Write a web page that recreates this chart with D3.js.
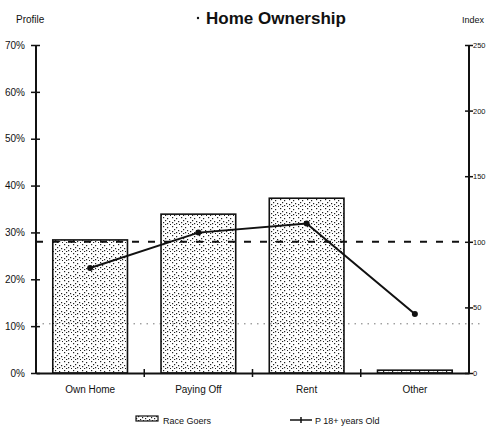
<!DOCTYPE html>
<html>
<head>
<meta charset="utf-8">
<script src="https://cdn.jsdelivr.net/npm/d3@7"></script>
<style>
  html, body { margin: 0; padding: 0; background: #fff; }
  svg { display: block; }
  text { font-family: "Liberation Sans Narrow", "Liberation Sans", Arial, sans-serif; fill: #111; }
</style>
</head>
<body>
<svg id="chart" width="487" height="430"></svg>
<script>
// Home ownership profile: race goers (bars, % share) vs. index for adults 18+ (line)
const categories = ["Own Home", "Paying Off", "Rent", "Other"];
const raceGoersPct = [28.4, 33.9, 37.3, 0.6];
const indexValues = [80, 107, 114, 45];
const leftTicks = [0, 10, 20, 30, 40, 50, 60, 70];
const rightTicks = [0, 50, 100, 150, 200, 250];
const indexBaseline = 100;
const referencePct = 10.5;

const svg = d3.select("#chart");
const plotLeft = 36, plotRight = 469, plotTop = 45, plotBottom = 373;

const x = d3.scaleBand().domain(categories).range([plotLeft, plotRight]).paddingInner(0.31).paddingOuter(0.155);
const yL = d3.scaleLinear().domain([0, 70]).range([plotBottom, plotTop]);
const yR = d3.scaleLinear().domain([0, 250]).range([plotBottom, plotTop]);

// stipple texture for the bars
const defs = svg.append("defs");
const pat = defs.append("pattern").attr("id", "stipple").attr("patternUnits", "userSpaceOnUse")
  .attr("width", 9).attr("height", 9);
const dots = [[1,1],[5,2],[3,4],[7,5],[1,6],[5,7],[8,8],[3,8]];
pat.selectAll("rect").data(dots).join("rect")
  .attr("x", d => d[0]).attr("y", d => d[1]).attr("width", 1.2).attr("height", 1.2).attr("fill", "#222");

// reference line
svg.append("line").attr("x1", plotLeft).attr("x2", plotRight + 14)
  .attr("y1", yL(referencePct)).attr("y2", yL(referencePct))
  .attr("stroke", "#777").attr("stroke-width", 1).attr("stroke-dasharray", "1.5,5");

// bars
svg.append("g").selectAll("rect").data(categories).join("rect")
  .attr("x", d => x(d)).attr("width", x.bandwidth())
  .attr("y", (d, i) => yL(raceGoersPct[i]))
  .attr("height", (d, i) => plotBottom - yL(raceGoersPct[i]))
  .attr("fill", "url(#stipple)").attr("stroke", "#111").attr("stroke-width", 1.6);

// index = 100 dashed line
svg.append("line").attr("x1", plotLeft).attr("x2", plotRight)
  .attr("y1", yR(indexBaseline)).attr("y2", yR(indexBaseline))
  .attr("stroke", "#111").attr("stroke-width", 2).attr("stroke-dasharray", "7,9");

// index line
const cx = d => x(d) + x.bandwidth() / 2;
svg.append("path")
  .datum(categories)
  .attr("fill", "none").attr("stroke", "#111").attr("stroke-width", 2)
  .attr("d", d3.line().x(cx).y((d, i) => yR(indexValues[i])));
svg.append("g").selectAll("circle").data(categories).join("circle")
  .attr("cx", cx).attr("cy", (d, i) => yR(indexValues[i])).attr("r", 3).attr("fill", "#111");

// axes
const axL = d3.axisLeft(yL).tickValues(leftTicks).tickFormat(d => d + "%").tickSize(5).tickPadding(6);
const gL = svg.append("g").attr("transform", `translate(${plotLeft},0)`).call(axL);
const axR = d3.axisRight(yR).tickValues(rightTicks).tickSize(4).tickPadding(0);
const gR = svg.append("g").attr("transform", `translate(${plotRight},0)`).call(axR);
const axB = d3.axisBottom(x).tickSize(0).tickPadding(13);
const gB = svg.append("g").attr("transform", `translate(0,${plotBottom})`).call(axB);

[gL, gR, gB].forEach(g => {
  g.select(".domain").attr("stroke", "#111").attr("stroke-width", 2);
  g.selectAll("text").attr("font-size", 10).attr("font-family", "Liberation Sans Narrow, Liberation Sans, sans-serif").attr("fill", "#111");
});
gR.selectAll("text").attr("font-size", 7.5);
gL.select(".domain").attr("d", `M0,${plotBottom}V${plotTop}`);
gR.select(".domain").attr("d", `M0,${plotBottom}V${plotTop}`);
gL.selectAll(".tick line").attr("x1", 4).attr("stroke", "#111").attr("stroke-width", 1.5);
gR.selectAll(".tick line").attr("x1", -4).attr("stroke", "#111").attr("stroke-width", 1.5);

// category separators on the baseline
const seps = categories.slice(1).map(d => x(d) - x.step() * x.paddingInner() / 2);
svg.append("g").selectAll("line").data(seps).join("line")
  .attr("x1", d => d).attr("x2", d => d).attr("y1", plotBottom - 4).attr("y2", plotBottom + 4)
  .attr("stroke", "#111").attr("stroke-width", 1.5);

// axis titles and chart title
svg.append("text").attr("x", 16).attr("y", 23).attr("font-size", 10).text("Profile");
svg.append("text").attr("x", 462).attr("y", 23).attr("font-size", 9).text("Index");
svg.append("text").attr("x", 276).attr("y", 24).attr("text-anchor", "middle")
  .attr("font-size", 17).attr("font-weight", "bold").attr("font-family", "Liberation Sans, Arial, sans-serif")
  .text("Home Ownership");
svg.append("circle").attr("cx", 198).attr("cy", 18).attr("r", 1.2).attr("fill", "#111");

// legend
const lg = svg.append("g").attr("transform", "translate(0,421)");
lg.append("rect").attr("x", 136).attr("y", -5).attr("width", 22).attr("height", 5)
  .attr("fill", "url(#stipple)").attr("stroke", "#111").attr("stroke-width", 1.2);
lg.append("text").attr("x", 163).attr("y", 3).attr("font-size", 9).text("Race Goers");
lg.append("line").attr("x1", 290).attr("x2", 312).attr("y1", -1).attr("y2", -1).attr("stroke", "#111").attr("stroke-width", 1.5);
lg.append("line").attr("x1", 301).attr("x2", 301).attr("y1", -4).attr("y2", 2).attr("stroke", "#111").attr("stroke-width", 1.5);
lg.append("text").attr("x", 315).attr("y", 3).attr("font-size", 9).text("P 18+ years Old");
</script>
</body>
</html>
